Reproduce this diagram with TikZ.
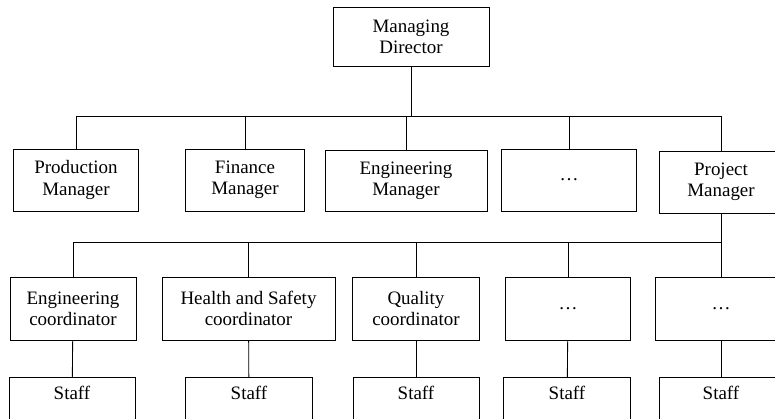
\documentclass[tikz,border=0pt]{standalone}
\usepackage{fontspec}
\setmainfont{Liberation Serif}
\usetikzlibrary{positioning}

\begin{document}
\begin{tikzpicture}[
        x=0.25mm, y=-0.25mm,
        box/.style={rectangle, draw, line width=0.6pt, align=center, font=\fontsize{13.5}{15}\selectfont, inner sep=2pt},
        wd/.style={minimum width=#1*0.25mm},
        ht/.style={minimum height=#1*0.25mm},
        staffbox/.style={box, anchor=north, inner ysep=0pt, text height=16pt, text depth=30pt},
        link/.style={line width=0.6pt}
    ]
        \useasboundingbox (0,0) rectangle (775,419);
        \clip (0,0) rectangle (775,419);

        % top level
        \node[box, wd=156, ht=59] (md) at (411,36.5) {Managing\\Director};

        % managers
        \node[box, wd=125, ht=62] (prod) at (76,180) {Production\\Manager};
        \node[box, wd=119, ht=62] (fin) at (245,180) {Finance\\Manager};
        \node[box, wd=162, ht=61] (eng) at (406,181) {Engineering\\Manager};
        \node[box, wd=135, ht=62] (mdots) at (569,180) {\dots};
        \node[box, wd=124, ht=62] (proj) at (721,182) {Project\\Manager};

        % coordinators
        \node[box, wd=126, ht=63] (engc) at (73,308.5) {Engineering\\coordinator};
        \node[box, wd=173, ht=63] (hsc) at (248.5,308.5) {Health and Safety\\coordinator};
        \node[box, wd=127, ht=63] (qc) at (416,308.5) {Quality\\coordinator};
        \node[box, wd=125, ht=63] (cdots) at (568,308.5) {\dots};
        \node[box, wd=132, ht=63] (cdotsb) at (721,308.5) {\dots};

        % staff
        \node[staffbox, wd=126] (staffa) at (72,377) {Staff};
        \node[staffbox, wd=127] (staffb) at (249,377) {Staff};
        \node[staffbox, wd=126] (staffc) at (416,377) {Staff};
        \node[staffbox, wd=127] (staffd) at (567,377) {Staff};
        \node[staffbox, wd=124] (staffe) at (721,377) {Staff};

        \coordinate (busa) at (0,116);
        \coordinate (busb) at (0,242);

        % director to managers
        \draw[link] (md.south) -- (md.south |- busa);
        \draw[link] (prod.north |- busa) -- (proj.north |- busa);
        \draw[link] (prod.north |- busa) -- (prod.north);
        \draw[link] (fin.north |- busa) -- (fin.north);
        \draw[link] (eng.north |- busa) -- (eng.north);
        \draw[link] (mdots.north |- busa) -- (mdots.north);
        \draw[link] (proj.north |- busa) -- (proj.north);

        % project manager to coordinators
        \draw[link] (proj.south) -- (cdotsb.north);
        \draw[link] (engc.north |- busb) -- (proj.south |- busb);
        \draw[link] (engc.north |- busb) -- (engc.north);
        \draw[link] (hsc.north |- busb) -- (hsc.north);
        \draw[link] (qc.north |- busb) -- (qc.north);
        \draw[link] (cdots.north |- busb) -- (cdots.north);

        % coordinators to staff
        \draw[link] (engc) -- (staffa);
        \draw[link] (hsc) -- (staffb);
        \draw[link] (qc) -- (staffc);
        \draw[link] (cdots) -- (staffd);
        \draw[link] (cdotsb) -- (staffe);
    \end{tikzpicture}
\end{document}
